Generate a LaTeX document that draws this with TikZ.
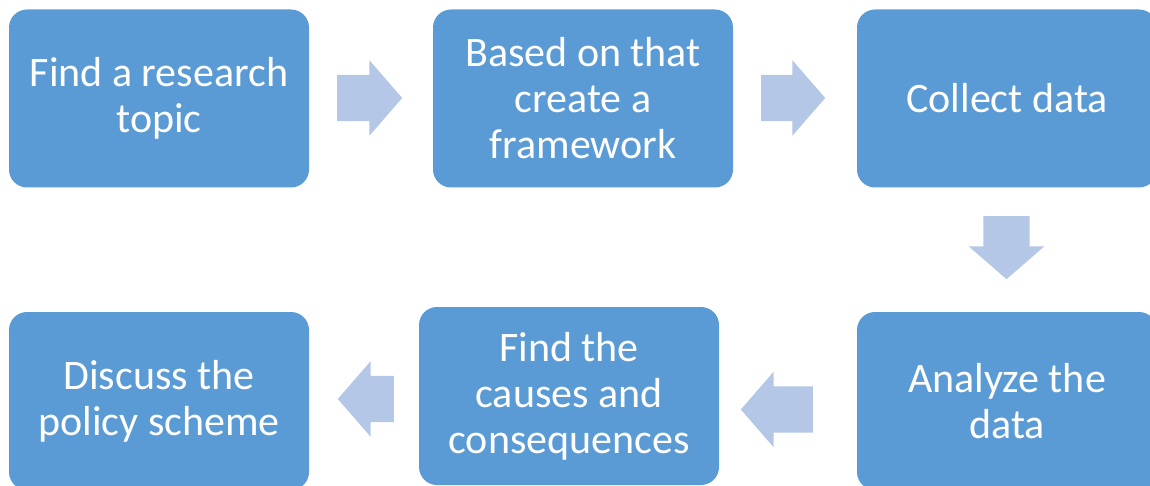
\documentclass[tikz,border=0pt]{standalone}
\usepackage{fontspec}
\setmainfont{Carlito}
\usetikzlibrary{shapes.arrows}
\definecolor{boxblue}{HTML}{5B9BD5}
\definecolor{arrowblue}{HTML}{B4C7E7}

\begin{document}
\begin{tikzpicture}[
  x=1pt, y=-1pt,
  every node/.style={font=\fontsize{42}{46}\selectfont},
  stepbox/.style={fill=boxblue, text=white, rounded corners=18pt,
    minimum width=300pt, minimum height=178pt, align=center, inner sep=0pt},
  flow/.style={single arrow, fill=arrowblue, anchor=tail, inner xsep=0pt, inner ysep=23pt,
    text height=0pt, text depth=0pt, single arrow head extend=14.5pt,
    single arrow tip angle=98, single arrow head indent=0pt},
  flowdown/.style={flow, inner xsep=23pt, inner ysep=0pt, shape border rotate=270}
]
\useasboundingbox (0,0) rectangle (1150,486);

% the six steps, top row left to right, bottom row right to left
\node[stepbox] (topic)   at (159,98.5)  {Find a research\\topic};
\node[stepbox] (frame)   at (583,98.5)  {Based on that\\create a\\framework};
\node[stepbox] (collect) at (1007,98.5) {Collect data};
\node[stepbox] (analyze) at (1007,401)  {Analyze the\\data};
\node[stepbox] (causes)  at (569,396)   {Find the\\causes and\\consequences};
\node[stepbox] (discuss) at (159,401)   {Discuss the\\policy scheme};

% block arrows between the steps (placed by their tails)
\foreach \x/\y/\len/\rot [count=\i] in {337/98/65/0, 761/98/64/0,
    813/409.5/72/180, 394/399/56/180}
  \node[flow, minimum height=\len pt, shape border rotate=\rot] (arr\i) at (\x,\y) {};
\node[flowdown, minimum height=63pt] (arrdown) at (1006.5,216) {};
\end{tikzpicture}
\end{document}
